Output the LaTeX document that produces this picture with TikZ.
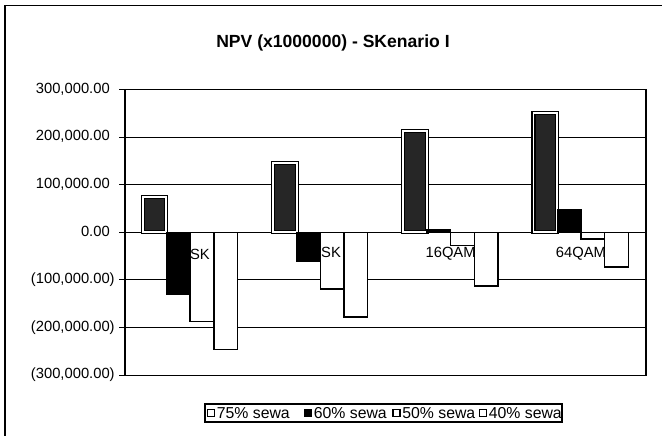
\documentclass[tikz,border=0pt]{standalone}
\usepackage{fontspec}
\setmainfont{Liberation Sans}
\usepackage{tikz}
\tikzset{frameline/.style={black,line width=0.7pt}}
\tikzset{gridline/.style={black,line width=0.6pt}}
\tikzset{barhigh/.style={draw=black,line width=0.6pt,double=white,double distance=1.1pt,fill=black!85}}
\tikzset{barblack/.style={draw=black,line width=0.8pt,fill=black}}
\tikzset{barwhite/.style={draw=black,line width=0.8pt,fill=white}}
\tikzset{ylabel/.style={anchor=east,inner sep=0pt,font=\fontsize{8.4}{10}\selectfont}}
\tikzset{catlabel/.style={inner sep=0pt,font=\fontsize{8.4}{10}\selectfont}}
\tikzset{keylabel/.style={anchor=west,inner sep=0pt,font=\fontsize{9}{10}\selectfont}}

\begin{document}
\begin{tikzpicture}[x=0.02cm,y=-0.02cm]
            \useasboundingbox (0,0) rectangle (662,436);
            % draw the chart frame and title
            \draw[frameline] (662,5.5) -- (5,5.5) -- (5,436);
            \node[font=\bfseries\fontsize{10}{12}\selectfont] (title) at (333,43) {NPV (x1000000) - SKenario I};
            % draw the plot area with the grid
            \draw[gridline,fill=white] (125,89.5) rectangle (646,375.1);
            \draw[gridline] (119,89.5) -- (646,89.5);
            \draw[gridline] (119,137.1) -- (646,137.1);
            \draw[gridline] (119,184.7) -- (646,184.7);
            \draw[gridline] (119,232.3) -- (646,232.3);
            \draw[gridline] (119,279.9) -- (646,279.9);
            \draw[gridline] (119,327.5) -- (646,327.5);
            \draw[gridline] (119,375.1) -- (646,375.1);
            \draw[black,line width=1pt] (125,89.5) -- (125,375.1);
            % value axis labels
            \node[ylabel] (y300) at (115,89.5) {300,000.00\phantom{)}};
            \node[ylabel] (y200) at (115,137.1) {200,000.00\phantom{)}};
            \node[ylabel] (y100) at (115,184.7) {100,000.00\phantom{)}};
            \node[ylabel] (y0) at (115,232.3) {0.00\phantom{)}};
            \node[ylabel] (ym100) at (115,279.9) {(100,000.00)};
            \node[ylabel] (ym200) at (115,327.5) {(200,000.00)};
            \node[ylabel] (ym300) at (115,375.1) {(300,000.00)};
            % BPSK bars
            \draw[barhigh] (142.8,232.3) rectangle (166.4,196.6);
            \draw[barblack] (166.4,232.3) rectangle (190.1,294.2);
            \draw[barwhite] (190.1,232.3) rectangle (213.8,321.3);
            \draw[barwhite] (213.8,232.3) rectangle (237.5,349.4);
            % QPSK bars
            \draw[barhigh] (273.0,232.3) rectangle (296.7,162.8);
            \draw[barblack] (296.7,232.3) rectangle (320.4,261.3);
            \draw[barwhite] (320.4,232.3) rectangle (344.1,288.9);
            \draw[barwhite] (344.1,232.3) rectangle (367.7,317.0);
            % 16QAM bars
            \draw[barhigh] (403.3,232.3) rectangle (426.9,131.4);
            \draw[barblack] (426.9,232.3) rectangle (450.6,229.4);
            \draw[barwhite] (450.6,232.3) rectangle (474.3,245.6);
            \draw[barwhite] (474.3,232.3) rectangle (498.0,286.1);
            % 64QAM bars
            \draw[barhigh] (533.5,232.3) rectangle (557.2,113.3);
            \draw[barblack] (557.2,232.3) rectangle (580.9,209.5);
            \draw[barwhite] (580.9,232.3) rectangle (604.6,239.0);
            \draw[barwhite] (604.6,232.3) rectangle (628.2,267.0);
            % category labels
            \node[catlabel] (bpsk) at (190.1,254) {BPSK};
            \node[catlabel] (qpsk) at (320.4,254) {QPSK};
            \node[catlabel] (qam16) at (450.6,254) {16QAM};
            \node[catlabel] (qam64) at (580.9,254) {64QAM};
            % draw the legend
            \draw[frameline,line width=0.6pt] (205,404) rectangle (562,422);
            \draw[barwhite,line width=1.1pt] (207.5,409.5) rectangle (214.5,416.5);
            \node[keylabel] (key75) at (216.5,413) {75\% sewa};
            \draw[barblack,line width=0.4pt] (304.5,409.5) rectangle (311.5,416.5);
            \node[keylabel] (key60) at (313.5,413) {60\% sewa};
            \draw[barwhite,line width=0.6pt] (393,409.5) rectangle (400,416.5);
            \node[keylabel] (key50) at (402,413) {50\% sewa};
            \draw[barwhite,line width=0.7pt] (479.5,409.5) rectangle (486.5,416.5);
            \node[keylabel] (key40) at (488.5,413) {40\% sewa};
        \end{tikzpicture}
\end{document}
